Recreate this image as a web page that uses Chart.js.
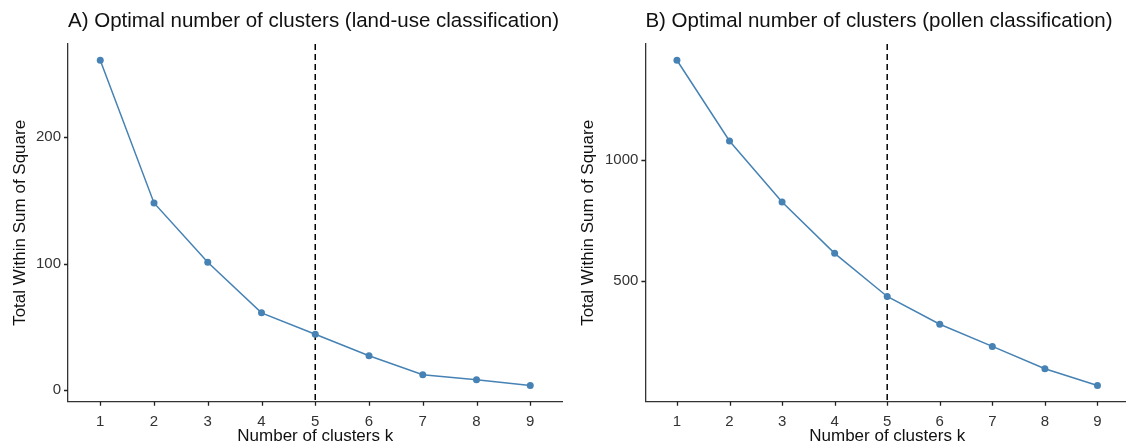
<!DOCTYPE html>
<html>
<head>
<meta charset="utf-8">
<script src="https://cdn.jsdelivr.net/npm/chart.js@4.4.1/dist/chart.umd.min.js"></script>
<style>
  html, body { margin: 0; padding: 0; background: #fff; overflow: hidden; }
  .panel { position: absolute; top: 0; }
  #panelA { left: 0; }
  #panelB { left: 565px; }
</style>
</head>
<body>
<div class="panel" id="panelA"><canvas id="chartA" width="570" height="445"></canvas></div>
<div class="panel" id="panelB"><canvas id="chartB" width="570" height="445"></canvas></div>
<script>
// k values and total within-cluster sum of squares for each run
const clusterK = [1, 2, 3, 4, 5, 6, 7, 8, 9];
const wssLandUse = [261, 148, 101, 61, 44, 27, 12, 8, 3.5];
const wssPollen = [1414, 1079, 826, 613, 434, 319, 227, 134, 65];

const ticksLandUse = [0, 100, 200];
const ticksPollen = [500, 1000];

const optimalK = 5;

const titleLandUse = 'A) Optimal number of clusters (land-use classification)';
const titlePollen = 'B) Optimal number of clusters (pollen classification)';

const lineColor = '#4682B4';
const axisColor = '#333333';
const TICK_LEN = 4;

// dashed vertical marker at the chosen k
const vlinePlugin = {
  id: 'vline',
  beforeDatasetsDraw(chart) {
    const x = chart.scales.x.getPixelForValue(optimalK);
    const area = chart.chartArea;
    const ctx = chart.ctx;
    ctx.save();
    ctx.strokeStyle = '#000';
    ctx.lineWidth = 1.5;
    ctx.setLineDash([6, 4]);
    ctx.beginPath();
    ctx.moveTo(x, area.top);
    ctx.lineTo(x, area.bottom);
    ctx.stroke();
    ctx.restore();
  }
};

// short outward tick marks on both axes
const tickMarkPlugin = {
  id: 'tickMarks',
  afterDraw(chart) {
    const { x: xs, y: ys } = chart.scales;
    const area = chart.chartArea;
    const ctx = chart.ctx;
    ctx.save();
    ctx.strokeStyle = '#222';
    ctx.lineWidth = 1.3;
    ctx.beginPath();
    xs.ticks.forEach(t => {
      const px = Math.round(xs.getPixelForValue(t.value)) + 0.5;
      ctx.moveTo(px, area.bottom);
      ctx.lineTo(px, area.bottom + TICK_LEN);
    });
    ys.ticks.forEach(t => {
      const py = Math.round(ys.getPixelForValue(t.value)) + 0.5;
      ctx.moveTo(area.left - TICK_LEN, py);
      ctx.lineTo(area.left, py);
    });
    ctx.stroke();
    ctx.restore();
  }
};

// ggplot style 5% padding around the data range
function expandRange(values) {
  const lo = Math.min(...values);
  const hi = Math.max(...values);
  const pad = (hi - lo) * 0.05;
  return { min: lo - pad, max: hi + pad };
}

function makeChart(canvasId, title, values, yTicks, yAxisWidth, yTitlePad, rightPad) {
  const yr = expandRange(values);
  const ctx = document.getElementById(canvasId).getContext('2d');
  return new Chart(ctx, {
    type: 'line',
    data: {
      datasets: [{
        data: clusterK.map((k, i) => ({ x: k, y: values[i] })),
        borderColor: lineColor,
        backgroundColor: lineColor,
        borderWidth: 1.5,
        pointRadius: 3.5,
        pointBorderWidth: 0,
        pointHoverRadius: 3.5,
        tension: 0,
        fill: false
      }]
    },
    options: {
      responsive: false,
      animation: false,
      devicePixelRatio: 1,
      layout: { padding: { left: 0, right: rightPad, top: 0, bottom: 0 } },
      plugins: {
        legend: { display: false },
        tooltip: { enabled: false },
        title: {
          display: true,
          text: title,
          align: 'start',
          fullSize: false,
          color: '#111',
          font: { family: 'Liberation Sans', size: 20.5, weight: 'normal', lineHeight: 1.2 },
          padding: { top: 9.5, bottom: 9.9 }
        }
      },
      scales: {
        x: {
          type: 'linear',
          min: 0.4,
          max: 9.6,
          afterFit: (scale) => { scale.height = 43.3; },
          afterBuildTicks: (scale) => { scale.ticks = clusterK.map(v => ({ value: v })); },
          border: { display: true, color: axisColor, width: 1.3 },
          grid: { drawOnChartArea: false, drawTicks: true, tickLength: TICK_LEN, color: 'rgba(0,0,0,0)' },
          ticks: {
            color: '#333',
            padding: 7,
            maxRotation: 0,
            autoSkip: false,
            font: { family: 'Liberation Sans', size: 15 }
          },
          title: {
            display: true,
            text: 'Number of clusters k',
            color: '#111',
            font: { family: 'Liberation Sans', size: 17, lineHeight: 1 },
            padding: { top: 0, bottom: 0 }
          }
        },
        y: {
          min: yr.min,
          max: yr.max,
          afterFit: (scale) => { scale.width = yAxisWidth; },
          afterBuildTicks: (scale) => { scale.ticks = yTicks.map(v => ({ value: v })); },
          border: { display: true, color: axisColor, width: 1.3 },
          grid: { drawOnChartArea: false, drawTicks: true, tickLength: TICK_LEN, color: 'rgba(0,0,0,0)' },
          ticks: {
            color: '#333',
            padding: 3,
            callback: (v) => String(v),
            font: { family: 'Liberation Sans', size: 15 }
          },
          title: {
            display: true,
            text: 'Total Within Sum of Square',
            color: '#111',
            font: { family: 'Liberation Sans', size: 17, lineHeight: 1 },
            padding: { top: yTitlePad, bottom: 0 }
          }
        }
      }
    },
    plugins: [vlinePlugin, tickMarkPlugin]
  });
}

makeChart('chartA', titleLandUse, wssLandUse, ticksLandUse, 68, 11.5, 7.5);
makeChart('chartB', titlePollen, wssPollen, ticksPollen, 80.4, 14.5, 6);
</script>
</body>
</html>
